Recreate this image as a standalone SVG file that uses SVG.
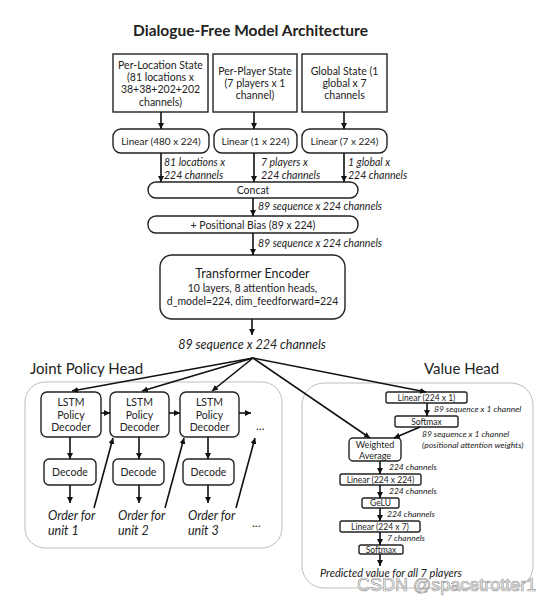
<svg xmlns="http://www.w3.org/2000/svg" width="553" height="602" viewBox="0 0 553 602">
<defs>
<marker id="ah" viewBox="0 0 10 10" refX="10" refY="5" markerWidth="6" markerHeight="6" markerUnits="userSpaceOnUse" orient="auto"><path d="M0,0 L10,5 L0,10 z" fill="#111"/></marker>
<style>
.box{fill:#fff;stroke:#222;stroke-width:1.4}
.panel{fill:none;stroke:#bdbdbd;stroke-width:1}
.t{font-family:Lato,"Liberation Sans",sans-serif;fill:#222;text-anchor:middle}
.l{text-anchor:start}
.i{font-style:italic}
.c{stroke:#111;stroke-width:1.6;fill:none;marker-end:url(#ah)}
</style>
</defs>
<rect width="553" height="602" fill="#fff"/>
<text class="t" x="250.5" y="36" font-size="15.5" font-weight="bold">Dialogue-Free Model Architecture</text>

<g id="per-location">
<rect class="box" x="113" y="54" width="95" height="58"/>
<text class="t" font-size="10.5"><tspan x="160.5" y="69">Per-Location State</tspan><tspan x="160.5" y="81">(81 locations x</tspan><tspan x="160.5" y="93">38+38+202+202</tspan><tspan x="160.5" y="106">channels)</tspan></text>
</g>
<g id="per-player">
<rect class="box" x="213" y="54" width="84" height="58"/>
<text class="t" font-size="10.5"><tspan x="255" y="75">Per-Player State</tspan><tspan x="255" y="87">(7 players x 1</tspan><tspan x="255" y="99">channel)</tspan></text>
</g>
<g id="global">
<rect class="box" x="302" y="54" width="85" height="58"/>
<text class="t" font-size="10.5"><tspan x="344.5" y="75">Global State (1</tspan><tspan x="344.5" y="87">global x 7</tspan><tspan x="344.5" y="99">channels</tspan></text>
</g>
<g id="linear480">
<rect class="box" x="113" y="129" width="96" height="24" rx="8"/>
<text class="t" x="161" y="145" font-size="10">Linear (480 x 224)</text>
</g>
<g id="linear1">
<rect class="box" x="214" y="129" width="83" height="24" rx="8"/>
<text class="t" x="255.5" y="145" font-size="10">Linear (1 x 224)</text>
</g>
<g id="linear7">
<rect class="box" x="302" y="129" width="85" height="24" rx="8"/>
<text class="t" x="344.5" y="145" font-size="10">Linear (7 x 224)</text>
</g>
<g id="concat">
<rect class="box" x="148" y="182" width="210" height="16" rx="8"/>
<text class="t" x="253" y="194" font-size="10.5">Concat</text>
</g>
<g id="posbias">
<rect class="box" x="148" y="216" width="210" height="17" rx="8"/>
<text class="t" x="253" y="228.5" font-size="10.5">+ Positional Bias (89 x 224)</text>
</g>
<g id="transformer">
<rect class="box" x="160" y="255" width="185" height="64" rx="12"/>
<text class="t" x="252.5" y="278" font-size="12.5">Transformer Encoder</text>
<text class="t" x="252.5" y="292" font-size="10.5">10 layers, 8 attention heads,</text>
<text class="t" x="252.5" y="305" font-size="10.5">d_model=224, dim_feedforward=224</text>
</g>

<text class="t i" x="252" y="349" font-size="12.5">89 sequence x 224 channels</text>
<text class="t l" x="30" y="374" font-size="15">Joint Policy Head</text>
<text class="t l" x="424" y="374" font-size="15">Value Head</text>

<rect class="panel" x="25" y="382" width="257" height="166" rx="20"/>
<rect class="panel" x="302" y="383" width="231" height="205" rx="22"/>

<g id="lstm1"><rect class="box" x="41" y="392" width="60" height="45" rx="6"/>
<text class="t" font-size="10.5"><tspan x="71" y="406">LSTM</tspan><tspan x="71" y="418.5">Policy</tspan><tspan x="71" y="431">Decoder</tspan></text></g>
<g id="lstm2"><rect class="box" x="110" y="392" width="59" height="45" rx="6"/>
<text class="t" font-size="10.5"><tspan x="139.5" y="406">LSTM</tspan><tspan x="139.5" y="418.5">Policy</tspan><tspan x="139.5" y="431">Decoder</tspan></text></g>
<g id="lstm3"><rect class="box" x="180" y="392" width="59" height="45" rx="6"/>
<text class="t" font-size="10.5"><tspan x="209.5" y="406">LSTM</tspan><tspan x="209.5" y="418.5">Policy</tspan><tspan x="209.5" y="431">Decoder</tspan></text></g>
<g id="decode1"><rect class="box" x="44" y="459" width="52" height="26" rx="5"/><text class="t" x="70" y="476" font-size="10.5">Decode</text></g>
<g id="decode2"><rect class="box" x="113" y="459" width="51" height="26" rx="5"/><text class="t" x="138.5" y="476" font-size="10.5">Decode</text></g>
<g id="decode3"><rect class="box" x="183" y="459" width="51" height="26" rx="5"/><text class="t" x="208.5" y="476" font-size="10.5">Decode</text></g>

<text class="t l i" font-size="12.5"><tspan x="48" y="520">Order for</tspan><tspan x="48" y="535">unit 1</tspan></text>
<text class="t l i" font-size="12.5"><tspan x="118" y="520">Order for</tspan><tspan x="118" y="535">unit 2</tspan></text>
<text class="t l i" font-size="12.5"><tspan x="188" y="520">Order for</tspan><tspan x="188" y="535">unit 3</tspan></text>
<text class="t l" x="256" y="430" font-size="12">...</text>
<text class="t l" x="252" y="527" font-size="12">...</text>

<g id="vlin1"><rect class="box" x="386" y="392" width="81" height="11" rx="2"/><text class="t" x="426.5" y="400.5" font-size="8.5">Linear (224 x 1)</text></g>
<g id="vsoft1"><rect class="box" x="395" y="416" width="63" height="11" rx="2"/><text class="t" x="426.5" y="424.5" font-size="8.5">Softmax</text></g>
<g id="wavg"><rect class="box" x="349" y="438" width="52" height="23" rx="4"/>
<text class="t" font-size="9"><tspan x="375" y="447.5">Weighted</tspan><tspan x="375" y="458.5">Average</tspan></text></g>
<g id="vlin2"><rect class="box" x="340" y="474" width="81" height="11" rx="2"/><text class="t" x="380.5" y="482.5" font-size="8.5">Linear (224 x 224)</text></g>
<g id="gelu"><rect class="box" x="362" y="498" width="37" height="10" rx="2"/><text class="t" x="380.5" y="506" font-size="8.5">GeLU</text></g>
<g id="vlin3"><rect class="box" x="340" y="521" width="80" height="11" rx="2"/><text class="t" x="380" y="529.5" font-size="8.5">Linear (224 x 7)</text></g>
<g id="vsoft2"><rect class="box" x="359" y="545" width="44" height="9" rx="2"/><text class="t" x="381" y="552.5" font-size="8.5">Softmax</text></g>

<g class="t l i" font-size="8.5">
<text x="434" y="412">89 sequence x 1 channel</text>
<text x="422" y="437">89 sequence x 1 channel</text>
<text x="422" y="448">(positional attention weights)</text>
<text x="389" y="470">224 channels</text>
<text x="389" y="494">224 channels</text>
<text x="387" y="517">224 channels</text>
<text x="387" y="541">7 channels</text>
</g>
<text class="t l i" x="320" y="577" font-size="11">Predicted value for all 7 players</text>

<g class="t l i" font-size="10.5">
<text x="164" y="166">81 locations x</text>
<text x="164" y="179">224 channels</text>
<text x="261" y="166">7 players x</text>
<text x="261" y="179">224 channels</text>
<text x="348" y="166">1 global x</text>
<text x="348" y="179">224 channels</text>
<text x="258" y="210">89 sequence x 224 channels</text>
<text x="258" y="247">89 sequence x 224 channels</text>
</g>

<g id="connectors">
<path class="c" d="M161,112 V129"/>
<path class="c" d="M254,112 V129"/>
<path class="c" d="M344,112 V129"/>
<path class="c" d="M161,153 V182"/>
<path class="c" d="M254,153 V182"/>
<path class="c" d="M344,153 V182"/>
<path class="c" d="M253,198 V216"/>
<path class="c" d="M253,233 V255"/>
<path class="c" d="M252,319 V335"/>
<path class="c" d="M253,358 L72,391"/>
<path class="c" d="M253,358 L142,391"/>
<path class="c" d="M253,358 L212,391"/>
<path class="c" d="M253,358 L370,438"/>
<path class="c" d="M253,358 L426,392"/>
<path class="c" d="M101,413 H110"/>
<path class="c" d="M169,413 H180"/>
<path class="c" d="M239,413 H251"/>
<path class="c" d="M70,437 V459"/>
<path class="c" d="M139,437 V459"/>
<path class="c" d="M208,437 V459"/>
<path class="c" d="M70,485 V503"/>
<path class="c" d="M139,485 V503"/>
<path class="c" d="M208,485 V503"/>
<path class="c" d="M94,508 L113,438"/>
<path class="c" d="M165,508 L184,438"/>
<path class="c" d="M236,508 L255,438"/>
<path class="c" d="M427,403 V416"/>
<path class="c" d="M420,427 L394,438"/>
<path class="c" d="M380,461 V474"/>
<path class="c" d="M380,485 V498"/>
<path class="c" d="M380,508 V521"/>
<path class="c" d="M380,532 V545"/>
<path class="c" d="M380,554 V566"/>
</g>
<text x="357" y="591" font-family="'Liberation Sans',sans-serif" font-size="18" fill="#fff" stroke="#999" stroke-width="0.7">CSDN @spacetrotter1</text>
</svg>
